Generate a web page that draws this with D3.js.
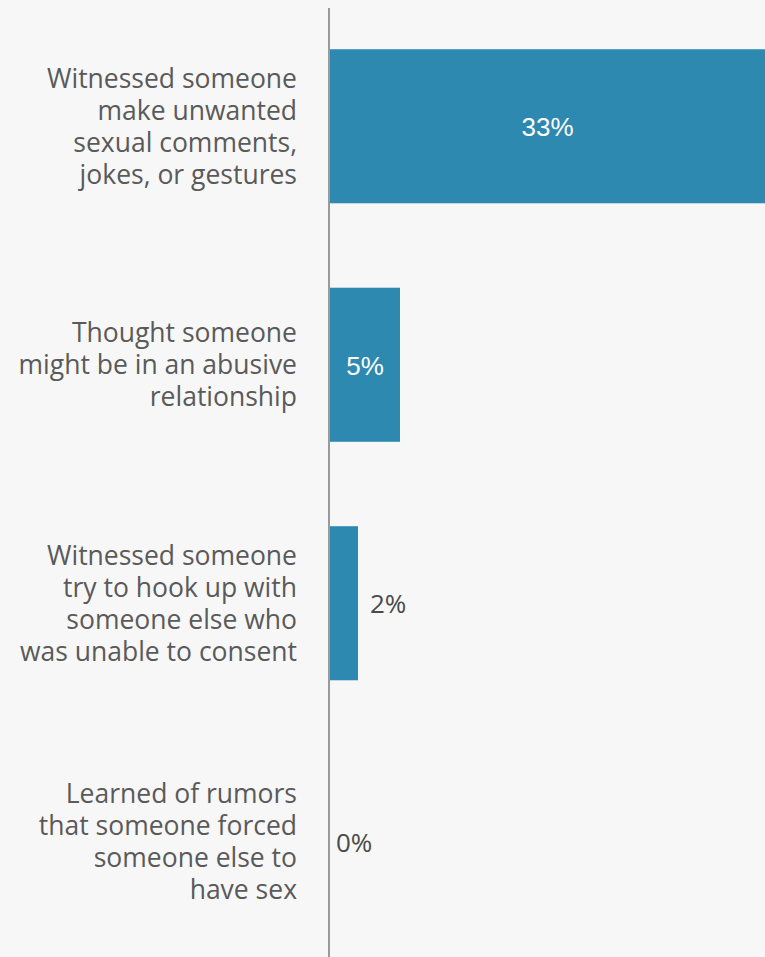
<!DOCTYPE html>
<html>
<head>
<meta charset="utf-8">
<script src="https://cdn.jsdelivr.net/npm/d3@7"></script>
<style>
  html, body { margin: 0; padding: 0; background: #f7f7f7; }
  svg { display: block; }
</style>
</head>
<body>
<div id="chart"></div>
<script>
// Share of respondents who witnessed each situation
const categories = [
  "Witnessed someone make unwanted sexual comments, jokes, or gestures",
  "Thought someone might be in an abusive relationship",
  "Witnessed someone try to hook up with someone else who was unable to consent",
  "Learned of rumors that someone forced someone else to have sex"
];
const categoryLines = [
  ["Witnessed someone", "make unwanted", "sexual comments,", "jokes, or gestures"],
  ["Thought someone", "might be in an abusive", "relationship"],
  ["Witnessed someone", "try to hook up with", "someone else who", "was unable to consent"],
  ["Learned of rumors", "that someone forced", "someone else to", "have sex"]
];
const values = [33, 5, 2, 0];

const width = 765, height = 957;
const axisX = 330;

const svg = d3.select("#chart").append("svg")
  .attr("width", width)
  .attr("height", height);

svg.append("rect").attr("width", width).attr("height", height).attr("fill", "#f7f7f7");

const y = d3.scaleBand()
  .domain(categories)
  .range([7, 961])
  .paddingInner(0.354)
  .paddingOuter(0.177);

const x = d3.scaleLinear()
  .domain([0, 33])
  .range([axisX, axisX + 33 * 14]);

const data = categories.map((c, i) => ({ cat: c, lines: categoryLines[i], value: values[i] }));

// clip bars to the visible area
svg.append("clipPath").attr("id", "plot-clip")
  .append("rect").attr("x", axisX).attr("y", 0).attr("width", width - axisX).attr("height", height);

svg.append("g").attr("clip-path", "url(#plot-clip)")
  .selectAll("rect.bar")
  .data(data)
  .join("rect")
  .attr("class", "bar")
  .attr("x", x(0))
  .attr("y", d => y(d.cat))
  .attr("width", d => x(d.value) - x(0))
  .attr("height", y.bandwidth())
  .attr("fill", "#2e89b1");

// vertical baseline
svg.append("line")
  .attr("x1", axisX - 1).attr("x2", axisX - 1)
  .attr("y1", 8).attr("y2", height)
  .attr("stroke", "#9a9a9a")
  .attr("stroke-width", 2);

// category labels
const lineH = 32;
const labels = svg.append("g").selectAll("text.cat")
  .data(data)
  .join("text")
  .attr("class", "cat")
  .attr("text-anchor", "end")
  .attr("font-family", "'Open Sans', sans-serif")
  .attr("font-size", 26.5)
  .attr("fill", "#5a5a5a");

labels.each(function(d) {
  const cy = y(d.cat) + y.bandwidth() / 2;
  const n = d.lines.length;
  d3.select(this).selectAll("tspan")
    .data(d.lines)
    .join("tspan")
    .attr("x", 297)
    .attr("y", (l, i) => cy + (i - (n - 1) / 2) * lineH)
    .attr("dy", "0.35em")
    .text(l => l);
});

// value labels: white inside wide bars, dark beside short ones
const visibleEnd = v => Math.min(x(v), width);
svg.append("g").selectAll("text.val")
  .data(data)
  .join("text")
  .attr("class", "val")
  .attr("dy", "0.35em")
  .attr("y", d => y(d.cat) + y.bandwidth() / 2 + 1)
  .each(function(d) {
    const inside = d.value >= 5;
    const t = d3.select(this);
    if (inside) {
      t.attr("x", (x(0) + visibleEnd(d.value)) / 2)
        .attr("text-anchor", "middle")
        .attr("font-family", "'Liberation Sans', Arial, sans-serif")
        .attr("font-size", 26)
        .attr("fill", "#ffffff");
    } else {
      t.attr("x", x(d.value) + (d.value > 0 ? 12 : 6))
        .attr("text-anchor", "start")
        .attr("font-family", "'Open Sans', sans-serif")
        .attr("font-size", 26)
        .attr("fill", "#4a4a4a");
    }
  })
  .text(d => d.value + "%");
</script>
</body>
</html>
